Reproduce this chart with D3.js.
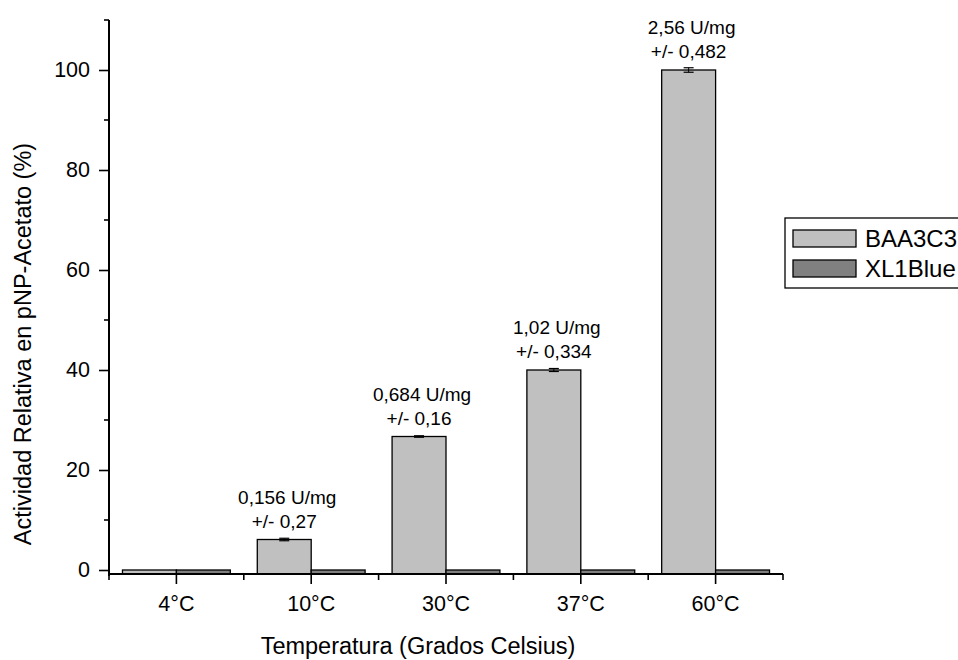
<!DOCTYPE html>
<html>
<head>
<meta charset="utf-8">
<script src="https://cdn.jsdelivr.net/npm/d3@7"></script>
<style>
  html, body { margin: 0; padding: 0; background: #fff; }
  svg { display: block; font-family: "Liberation Sans", Arial, sans-serif; }
</style>
</head>
<body>
<svg id="chart" width="958" height="660"></svg>
<script>
const categories = ["4°C", "10°C", "30°C", "37°C", "60°C"];
const seriesNames = ["BAA3C3", "XL1Blue"];
const baa3c3 = [0, 6.1, 26.7, 40, 100];
const xl1blue = [0, 0, 0, 0, 0];
const baa3c3Err = [0, 0.25, 0.15, 0.3, 0.45];
const labelLine1 = ["", "0,156 U/mg", "0,684 U/mg", "1,02 U/mg", "2,56 U/mg"];
const labelLine2 = ["", "+/- 0,27", "+/- 0,16", "+/- 0,334", "+/- 0,482"];
const yMajorTicks = [0, 20, 40, 60, 80, 100];
const yMinorTicks = [10, 30, 50, 70, 90, 110];
const colors = ["#c0c0c0", "#808080"];

const svg = d3.select("#chart");
const mLeft = 109, mRight = 783, mTop = 20, mBottom = 574;

const x = d3.scaleBand().domain(categories).range([mLeft, mRight]).paddingInner(0.2).paddingOuter(0.1);
const xs = d3.scaleBand().domain(seriesNames).range([0, x.bandwidth()]).padding(0);
const y = d3.scaleLinear().domain([-0.8, 110]).range([mBottom, mTop]);

const rows = categories.map((c, i) => ({ cat: c, vals: [baa3c3[i], xl1blue[i]], err: baa3c3Err[i], l1: labelLine1[i], l2: labelLine2[i] }));

// bars
const g = svg.append("g");
rows.forEach(r => {
  r.vals.forEach((v, si) => {
    g.append("rect")
      .attr("x", x(r.cat) + xs(seriesNames[si]))
      .attr("y", y(v))
      .attr("width", xs.bandwidth())
      .attr("height", y(-0.8) - y(v))
      .attr("fill", colors[si])
      .attr("stroke", "#000")
      .attr("stroke-width", 1.3);
  });
  if (r.err > 0) {
    const cx = x(r.cat) + xs("BAA3C3") + xs.bandwidth() / 2;
    const v = r.vals[0];
    g.append("line").attr("x1", cx).attr("x2", cx).attr("y1", y(v + r.err)).attr("y2", y(v - r.err)).attr("stroke", "#000").attr("stroke-width", 1);
    [v + r.err, v - r.err].forEach(e => {
      g.append("line").attr("x1", cx - 5).attr("x2", cx + 5).attr("y1", y(e)).attr("y2", y(e)).attr("stroke", "#000").attr("stroke-width", 1.2);
    });
  }
  if (r.l1) {
    const cx = x(r.cat) + xs("BAA3C3") + xs.bandwidth() / 2;
    const ty = y(r.vals[0]);
    g.append("text").attr("x", cx + 3).attr("y", ty - 36).attr("text-anchor", "middle").attr("font-size", 19).text(r.l1);
    g.append("text").attr("x", cx).attr("y", ty - 12).attr("text-anchor", "middle").attr("font-size", 19).text(r.l2);
  }
});

// y axis
const yAxis = svg.append("g").attr("transform", `translate(${mLeft},0)`)
  .call(d3.axisLeft(y).tickValues(yMajorTicks).tickSize(10).tickSizeOuter(0).tickPadding(9));
yAxis.select(".domain").attr("d", `M0,${mTop}V${mBottom + 2}`).attr("stroke-width", 2);
yAxis.selectAll(".tick line").attr("stroke-width", 1.6);
yAxis.selectAll(".tick text").attr("font-size", 21.5).attr("font-family", "Liberation Sans, Arial, sans-serif").attr("fill", "#000");
svg.append("g").attr("transform", `translate(${mLeft},0)`)
  .selectAll("line").data(yMinorTicks).join("line")
  .attr("x1", -5).attr("x2", 0).attr("y1", d => y(d)).attr("y2", d => y(d))
  .attr("stroke", "#000").attr("stroke-width", 1.6);

// x axis
const xAxis = svg.append("g").attr("transform", `translate(0,${mBottom})`)
  .call(d3.axisBottom(x).tickSize(10).tickSizeOuter(0));
xAxis.select(".domain").attr("d", `M${mLeft},0H${mRight}`).attr("stroke-width", 2);
xAxis.selectAll(".tick line").attr("stroke-width", 1.6);
xAxis.selectAll(".tick text").attr("font-size", 21.5).attr("font-family", "Liberation Sans, Arial, sans-serif").attr("fill", "#000").attr("y", 37).attr("dy", 0);
const edges = categories.map(c => x(c) - x.step() * x.paddingInner() / 2).concat([mRight]);
edges[0] = mLeft;
svg.append("g").attr("transform", `translate(0,${mBottom})`)
  .selectAll("line").data(edges).join("line")
  .attr("x1", d => d).attr("x2", d => d).attr("y1", 0).attr("y2", 6)
  .attr("stroke", "#000").attr("stroke-width", 1.6);

// axis titles
svg.append("text").attr("x", 418).attr("y", 654).attr("text-anchor", "middle").attr("font-size", 23.5).text("Temperatura (Grados Celsius)");
svg.append("text").attr("transform", "translate(31,344) rotate(-90)").attr("text-anchor", "middle").attr("font-size", 23.5).text("Actividad Relativa en pNP-Acetato (%)");

// legend
const lg = svg.append("g");
lg.append("rect").attr("x", 785).attr("y", 218).attr("width", 190).attr("height", 70).attr("fill", "#fff").attr("stroke", "#000").attr("stroke-width", 1.3);
seriesNames.forEach((s, i) => {
  lg.append("rect").attr("x", 793).attr("y", 230 + i * 30).attr("width", 63).attr("height", 17).attr("fill", colors[i]).attr("stroke", "#000").attr("stroke-width", 1.3);
  lg.append("text").attr("x", 865).attr("y", 247 + i * 30).attr("font-size", 24).text(s);
});
</script>
</body>
</html>
